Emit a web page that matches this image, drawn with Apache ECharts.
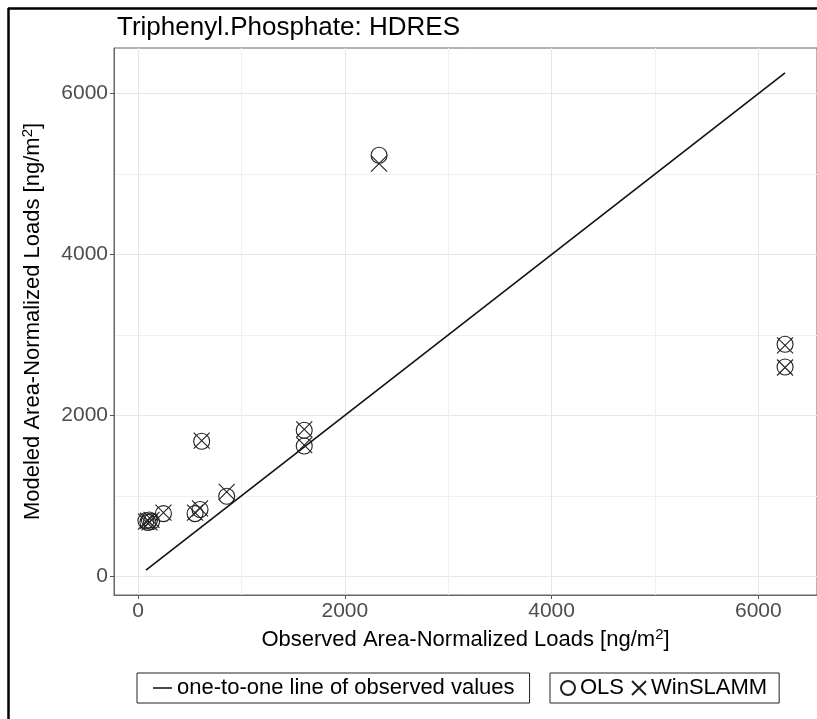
<!DOCTYPE html>
<html><head><meta charset="utf-8">
<script src="https://cdn.jsdelivr.net/npm/echarts@6/dist/echarts.min.js"></script>
<style>html,body{margin:0;padding:0;background:#fff}#c{width:817px;height:719px}</style>
</head><body><div id="c"></div>
<script>
// Observed vs modeled area-normalized loads [ng/m2]
const observed        = [76, 95, 110, 130, 245, 551, 599, 857, 615, 1607, 1607, 2331, 6258, 6258];
const olsModeled      = [690, 670, 700, 680, 779, 779, 829, 994, 1678, 1815, 1620, 5233, 2884, 2602];
const winslammModeled = [680, 690, 670, 700, 790, 790, 845, 1048, 1685, 1825, 1630, 5130, 2870, 2595];
const xMajorTicks = [0, 2000, 4000, 6000];
const xMinorTicks = [1000, 3000, 5000];
const yMajorTicks = [0, 2000, 4000, 6000];
const yMinorTicks = [1000, 3000, 5000];

const FONT = "'Liberation Sans', Arial, Helvetica, sans-serif";
const lo = Math.min(...observed), hi = Math.max(...observed);
const pad = (hi - lo) * 0.05;
const axMin = lo - pad, axMax = hi + pad;

const chart = echarts.init(document.getElementById('c'), null, {renderer: 'canvas'});

function mkAxis(major, minor, name, isX) {
  const common = {type: 'value', min: axMin, max: axMax, scale: true};
  const main = Object.assign({}, common, {
    name: name,
    nameLocation: 'middle',
    nameGap: isX ? 31 : 68,
    nameTextStyle: {
      rich: {
        t: {fontSize: 22, color: '#000', fontFamily: FONT, lineHeight: 26},
        s: {fontSize: 15, color: '#000', fontFamily: FONT, lineHeight: 14, verticalAlign: 'top'}
      }
    },
    axisLine: {show: true, onZero: false, lineStyle: {color: '#666', width: 1}},
    axisTick: {show: true, length: 4, customValues: major, lineStyle: {color: '#555', width: 1}},
    axisLabel: {customValues: major, fontSize: 21, color: '#4D4D4D', fontFamily: FONT, margin: 6,
                formatter: v => String(Math.round(v))},
    splitLine: {show: true, lineStyle: {color: '#E6E6E6', width: 1}}
  });
  const sub = Object.assign({}, common, {
    show: true,
    axisLine: {show: false},
    axisTick: {show: false, customValues: minor},
    axisLabel: {show: false, customValues: minor},
    splitLine: {show: true, lineStyle: {color: '#F0F0F0', width: 1}}
  });
  return [main, sub];
}

const option = {
  animation: false,
  backgroundColor: '#fff',
  title: {
    text: 'Triphenyl.Phosphate: HDRES',
    left: 112, top: 10,
    textStyle: {fontSize: 26, fontWeight: 'normal', color: '#000', fontFamily: FONT}
  },
  grid: {left: 114, top: 48, width: 704, height: 547, show: true, borderColor: '#666', borderWidth: 1, backgroundColor: '#fff'},
  xAxis: mkAxis(xMajorTicks, xMinorTicks, '{t|Observed Area-Normalized Loads [ng/m}{s|2}{t|]}', true),
  yAxis: mkAxis(yMajorTicks, yMinorTicks, '{t|Modeled Area-Normalized Loads [ng/m}{s|2}{t|]}', false),
  legend: [
    {
      data: [{name: 'one-to-one line of observed values', icon: 'path://M0,0L20,0L20,1.6L0,1.6Z'}],
      left: 137, top: 673, orient: 'horizontal',
      padding: [4, 15, 4, 16], itemWidth: 19, itemHeight: 14,
      borderColor: '#222', borderWidth: 1, selectedMode: false,
      textStyle: {fontSize: 22, color: '#000', fontFamily: FONT, lineHeight: 22}
    },
    {
      data: ['OLS', 'WinSLAMM'],
      left: 550, top: 673, orient: 'horizontal',
      padding: [4, 12, 4, 10], itemWidth: 14, itemHeight: 14, itemGap: 7,
      borderColor: '#222', borderWidth: 1, selectedMode: false,
      textStyle: {fontSize: 22, color: '#000', fontFamily: FONT, lineHeight: 22}
    }
  ],
  series: [
    {
      name: 'one-to-one line of observed values',
      type: 'line', xAxisIndex: 0, yAxisIndex: 0,
      data: [[lo, lo], [hi, hi]],
      symbol: 'none', showSymbol: false,
      lineStyle: {color: '#111', width: 1.6},
      itemStyle: {color: '#111'},
      z: 3
    },
    {
      name: 'OLS', type: 'scatter', xAxisIndex: 0, yAxisIndex: 0,
      data: observed.map((x, i) => [x, olsModeled[i]]),
      symbol: 'circle', symbolSize: 16,
      itemStyle: {color: 'rgba(0,0,0,0)', borderColor: '#222', borderWidth: 1.1, opacity: 1},
      z: 4
    },
    {
      name: 'WinSLAMM', type: 'scatter', xAxisIndex: 0, yAxisIndex: 0,
      data: observed.map((x, i) => [x, winslammModeled[i]]),
      symbol: 'path://M0,0L16,16M16,0L0,16', symbolSize: 16,
      itemStyle: {color: 'rgba(0,0,0,0)', borderColor: '#222', borderWidth: 1.1, opacity: 1},
      z: 4
    }
  ],
  graphic: [
    {type: 'line', shape: {x1: 8, y1: 8.5, x2: 817, y2: 8.5}, style: {stroke: '#000', lineWidth: 2.5}, z: 100},
    {type: 'line', shape: {x1: 8.5, y1: 8, x2: 8.5, y2: 719}, style: {stroke: '#000', lineWidth: 2.5}, z: 100}
  ]
};
chart.setOption(option);
</script></body></html>
